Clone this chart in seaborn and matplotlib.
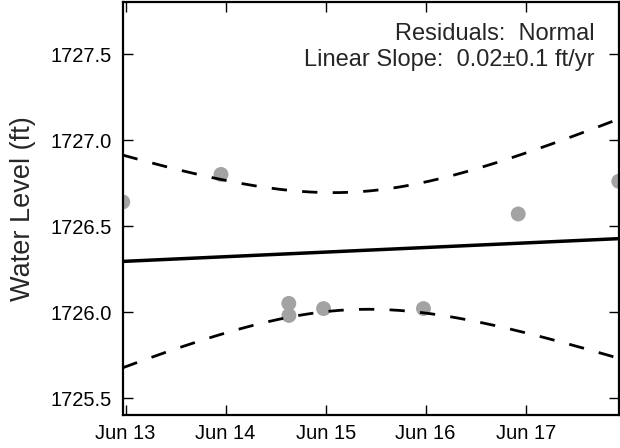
import numpy as np
import pandas as pd
import matplotlib
matplotlib.use("Agg")
import matplotlib.pyplot as plt
import matplotlib.dates as mdates
import seaborn as sns

times = ["2015-06-12 23:20", "2015-06-13 22:54", "2015-06-14 15:10", "2015-06-14 15:12",
         "2015-06-14 23:30", "2015-06-15 23:28", "2015-06-16 22:12", "2015-06-17 22:19"]
levels = [1726.64, 1726.80, 1726.05, 1725.98, 1726.02, 1726.02, 1726.57, 1726.76]

residuals_label = "Residuals:  Normal"
slope_label = "Linear Slope:  0.02\u00b10.1 ft/yr"
T95 = 2.447  # student t, 95%, 6 dof

df = pd.DataFrame({"time": pd.to_datetime(times), "level": levels})

# linear fit + 95% confidence band
x = mdates.date2num(df["time"])
y = df["level"].to_numpy()
n = len(x)
slope, icept = np.polyfit(x, y, 1)
resid = y - (slope * x + icept)
s = np.sqrt(np.sum(resid ** 2) / (n - 2))
sxx = np.sum((x - x.mean()) ** 2)

xg = np.linspace(x.min(), x.max(), 200)
yfit = slope * xg + icept
hw = T95 * s * np.sqrt(1.0 / n + (xg - x.mean()) ** 2 / sxx)
fit = pd.DataFrame({"time": mdates.num2date(xg), "fit": yfit,
                    "upper": yfit + hw, "lower": yfit - hw})

sns.set_style("ticks")
plt.rcParams["font.family"] = ["Liberation Sans", "DejaVu Sans"]

fig = plt.figure(figsize=(6.2, 4.48), dpi=100)
ax = fig.add_axes([0.198, 0.0732, 0.8, 0.9214])

sns.scatterplot(data=df, x="time", y="level", ax=ax, color="#a3a3a3",
                s=115, edgecolor="none", clip_on=True, zorder=2)
sns.lineplot(data=fit, x="time", y="fit", ax=ax, color="black", lw=2.5, zorder=3)
for col in ["upper", "lower"]:
    sns.lineplot(data=fit, x="time", y=col, ax=ax, color="black", lw=2.0,
                 linestyle=(0, (5.5, 5.5)), zorder=3)

ax.set_xlim(x.min(), x.max())
ax.set_ylim(1725.4, 1727.8)
ax.set_yticks([1725.5, 1726.0, 1726.5, 1727.0, 1727.5])
ax.yaxis.set_major_formatter(matplotlib.ticker.FormatStrFormatter("%.1f"))
ax.xaxis.set_major_locator(mdates.DayLocator())
ax.xaxis.set_major_formatter(mdates.DateFormatter("%b %d"))

ax.set_xlabel("")
ax.set_ylabel("Water Level (ft)", fontsize=19.5, labelpad=10)
ax.tick_params(axis="both", direction="in", length=7, width=1,
               top=True, right=True, labelsize=14.5, colors="black")
ax.tick_params(axis="y", pad=8)
ax.tick_params(axis="x", pad=6)
for sp in ax.spines.values():
    sp.set_linewidth(1.6)
    sp.set_color("black")

ax.text(0.952, 0.909, residuals_label, transform=ax.transAxes,
        ha="right", va="baseline", fontsize=17)
ax.text(0.952, 0.845, slope_label, transform=ax.transAxes,
        ha="right", va="baseline", fontsize=17)

fig.savefig("out.png", dpi=100)
